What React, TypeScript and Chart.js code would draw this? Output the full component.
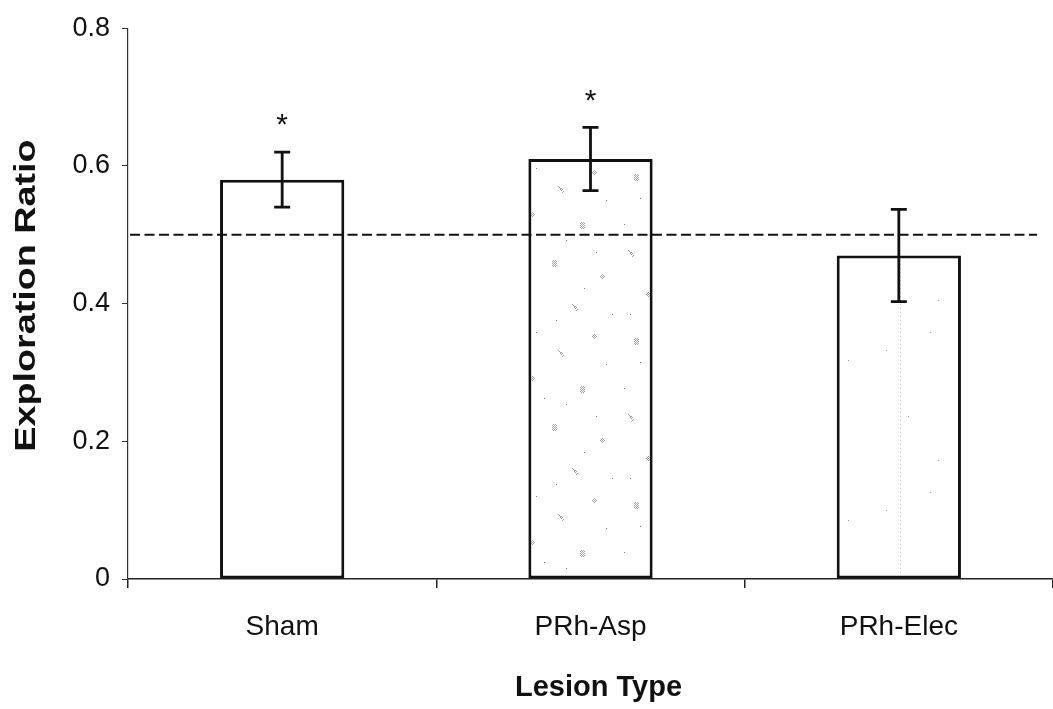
import React, { useEffect, useRef } from "react";
import { Chart, registerables } from "chart.js";

Chart.register(...registerables);

// ---- data ----
const categories = ["Sham", "PRh-Asp", "PRh-Elec"];
const meanRatio = [0.58, 0.61, 0.47];
const stdError = [0.04, 0.046, 0.067];
const significance = ["*", "*", ""];
const chanceLevel = 0.5;
const yTicks = [0, 0.2, 0.4, 0.6, 0.8];
const xTitle = "Lesion Type";
const yTitle = "Exploration Ratio";

const FONT = "'Liberation Sans', Arial, Helvetica, sans-serif";
const INK = "#111";

// stipple texture for the lesion bars: little gray blobs and stray dots
const BLOB_A = [
  [1, 0], [3, 0], [0, 1], [2, 1], [4, 1], [1, 2], [3, 2], [0, 3], [2, 3],
  [4, 3], [1, 4], [3, 4], [2, 5], [0, 5], [4, 5], [1, 6], [3, 6],
];
const BLOB_B = [
  [0, 0], [1, 1], [2, 2], [3, 2], [2, 3], [4, 3], [3, 4], [5, 5], [4, 6],
];
const BLOB_C = [
  [2, 0], [1, 1], [3, 1], [0, 2], [2, 2], [4, 2], [1, 3], [3, 3], [2, 4],
];
const DENSE_BLOBS: [number, number, number[][]][] = [
  [14, 10, BLOB_A], [62, 22, BLOB_B], [96, 6, BLOB_C], [34, 48, BLOB_C],
  [84, 58, BLOB_A], [8, 86, BLOB_B], [56, 96, BLOB_A], [104, 110, BLOB_C],
  [26, 128, BLOB_C], [76, 140, BLOB_B],
];
const DENSE_DOTS = [
  [40, 4], [110, 36], [20, 34], [70, 76], [4, 60], [48, 70], [100, 88],
  [30, 104], [88, 124], [10, 150], [60, 156], [116, 150],
];
const SPARSE_DOTS = [
  [18, 30], [92, 72], [62, 12], [40, 96], [104, 40], [70, 140],
];

function makePattern(kind: "dense" | "sparse"): CanvasPattern | string {
  const tile = document.createElement("canvas");
  tile.width = 124;
  tile.height = kind === "dense" ? 164 : 160;
  const t = tile.getContext("2d");
  if (!t) return "#fff";
  t.fillStyle = "#fff";
  t.fillRect(0, 0, tile.width, tile.height);
  if (kind === "dense") {
    t.fillStyle = "#a2a2a2";
    DENSE_BLOBS.forEach(([x, y, shape]) =>
      shape.forEach(([dx, dy]) => t.fillRect(x + dx, y + dy, 1, 1))
    );
    t.fillStyle = "#777";
    DENSE_DOTS.forEach(([x, y]) => t.fillRect(x, y, 1, 1));
  } else {
    t.fillStyle = "#999";
    SPARSE_DOTS.forEach(([x, y]) => t.fillRect(x, y, 1, 1));
    // faint dotted streak down the bar
    t.fillStyle = "#c8c8c8";
    for (let yy = 0; yy < tile.height; yy += 4) t.fillRect(32, yy, 1, 1);
  }
  const p = t.createPattern(tile, "repeat");
  return p || "#fff";
}

// chance line, error bars and significance marks drawn over the bars
const overlayPlugin = {
  id: "overlay",
  afterDatasetsDraw(chart: any) {
    const { ctx, chartArea, scales } = chart;
    const y = scales.y;
    const meta = chart.getDatasetMeta(0);
    ctx.save();

    // dashed chance level
    const yc = y.getPixelForValue(chanceLevel);
    ctx.strokeStyle = INK;
    ctx.lineWidth = 2;
    ctx.setLineDash([10, 4.5]);
    ctx.beginPath();
    ctx.moveTo(chartArea.left + 2, yc);
    ctx.lineTo(chartArea.right - 16, yc);
    ctx.stroke();
    ctx.setLineDash([]);

    // error bars
    ctx.lineWidth = 2.8;
    meta.data.forEach((bar: any, i: number) => {
      const x = bar.x;
      const top = y.getPixelForValue(meanRatio[i] + stdError[i]);
      const bottom = y.getPixelForValue(meanRatio[i] - stdError[i]);
      ctx.beginPath();
      ctx.moveTo(x, top);
      ctx.lineTo(x, bottom);
      ctx.moveTo(x - 8, top);
      ctx.lineTo(x + 8, top);
      ctx.moveTo(x - 8, bottom);
      ctx.lineTo(x + 8, bottom);
      ctx.stroke();

      if (significance[i]) {
        ctx.fillStyle = INK;
        ctx.font = `30px ${FONT}`;
        ctx.textAlign = "center";
        ctx.textBaseline = "middle";
        ctx.fillText(significance[i], x, top - 26);
      }
    });
    ctx.restore();
  },
  afterDraw(chart: any) {
    const { ctx, chartArea } = chart;
    ctx.save();
    ctx.fillStyle = INK;
    ctx.font = `bold 29px ${FONT}`;
    ctx.textAlign = "center";
    ctx.textBaseline = "middle";
    // x title
    ctx.fillText(xTitle, (chartArea.left + chartArea.right) / 2 + 8, 688);
    // y title, rotated and drawn a little long along its baseline
    ctx.translate(27, (chartArea.top + chartArea.bottom) / 2 - 8);
    ctx.rotate(-Math.PI / 2);
    ctx.scale(1.3, 1);
    ctx.fillText(yTitle, 0, 0);
    ctx.restore();
  },
};

export default function App() {
  const canvasRef = useRef<HTMLCanvasElement | null>(null);

  useEffect(() => {
    const canvas = canvasRef.current;
    if (!canvas) return;
    const fills = ["#ffffff", makePattern("dense"), makePattern("sparse")];

    const chart = new Chart(canvas, {
      type: "bar",
      data: {
        labels: categories,
        datasets: [
          {
            data: meanRatio,
            backgroundColor: fills as any,
            borderColor: INK,
            borderWidth: 3,
            borderSkipped: false,
            categoryPercentage: 1,
            barPercentage: 0.403,
          },
        ],
      },
      options: {
        responsive: false,
        animation: false,
        events: [],
        layout: { padding: { left: 0, right: 0, top: 23, bottom: 0 } },
        plugins: {
          legend: { display: false },
          tooltip: { enabled: false },
          title: { display: false },
        },
        scales: {
          x: {
            offset: true,
            afterFit: (scale: any) => {
              scale.height = 130;
            },
            grid: {
              offset: true,
              drawOnChartArea: false,
              drawTicks: true,
              tickLength: 9,
              color: "#222",
              lineWidth: 1.5,
            },
            border: { display: true, color: "#222", width: 1.5 },
            ticks: {
              color: INK,
              font: { family: FONT, size: 28 },
              padding: 22,
              maxRotation: 0,
            },
          },
          y: {
            min: 0,
            max: 0.8,
            afterFit: (scale: any) => {
              scale.width = 128;
            },
            afterBuildTicks: (scale: any) => {
              scale.ticks = yTicks.map((v) => ({ value: v }));
            },
            grid: {
              drawOnChartArea: false,
              drawTicks: true,
              tickLength: 6,
              color: "#333",
              lineWidth: 1,
            },
            border: { display: true, color: "#333", width: 1.2 },
            ticks: {
              color: INK,
              font: { family: FONT, size: 27 },
              padding: 12,
              callback: (v: any) => (Number(v) === 0 ? "0" : Number(v).toFixed(1)),
            },
          },
        },
      },
      plugins: [overlayPlugin],
    });

    return () => chart.destroy();
  }, []);

  return (
    <div
      style={{
        position: "fixed",
        left: 0,
        top: 0,
        width: 1053,
        height: 709,
        background: "#fff",
      }}
    >
      <canvas ref={canvasRef} width={1053} height={709} />
    </div>
  );
}
